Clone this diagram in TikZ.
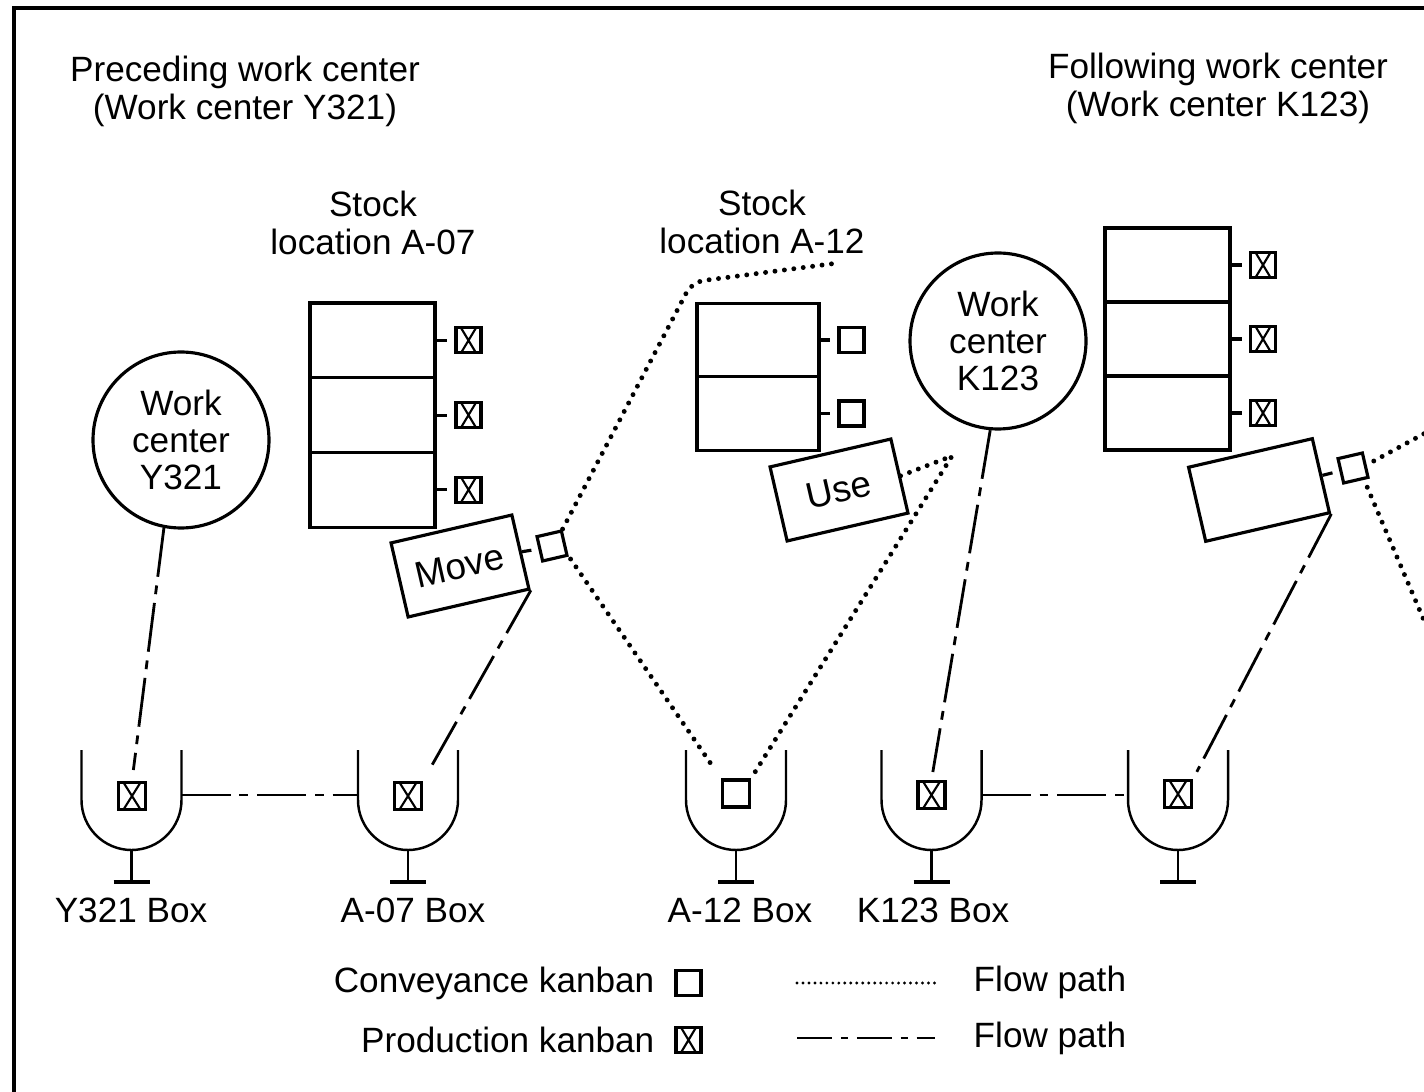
\documentclass[tikz,border=0pt]{standalone}
\usepackage{fontspec}
\setmainfont{Liberation Sans}
\usetikzlibrary{calc}
\tikzset{
  txt/.style={font=\fontsize{10}{10.8}\selectfont, align=center, inner sep=0pt},
  wc/.style={circle, draw, line width=0.9pt, minimum size=1.76cm, inner sep=0pt,
    font=\fontsize{10}{10.5}\selectfont, align=center},
  cell/.style={draw, line width=0.9pt, minimum width=1.25cm, minimum height=0.747cm, inner sep=0pt},
  card/.style={draw, line width=0.9pt, minimum width=1.24cm, minimum height=0.76cm,
    inner sep=0pt, rotate=13, font=\fontsize{10.5}{11}\selectfont},
  ctag/.style={draw, line width=0.9pt, minimum size=0.25cm, inner sep=0pt},
  ptag/.style={ctag, path picture={
    \draw[line width=0.6pt]
      ([xshift=0.05cm]path picture bounding box.north west) -- ([xshift=-0.05cm]path picture bounding box.south east)
      ([xshift=-0.05cm]path picture bounding box.north east) -- ([xshift=0.05cm]path picture bounding box.south west);}},
  tick/.style={line width=0.9pt, shorten >=0.07cm},
  dotflow/.style={line width=1.4pt, dash pattern=on 0pt off 2.7pt, line cap=round},
  dashflow/.style={line width=0.8pt, dash pattern=on 14pt off 2.5pt on 2.5pt off 2.5pt},
  legdot/.style={line width=0.9pt, dash pattern=on 0pt off 1.7pt, line cap=round},
  legdash/.style={line width=0.8pt, dash pattern=on 10pt off 2.5pt on 2pt off 2.5pt},
  bin/.pic={
    \draw[line width=0.7pt] (-0.5,0.45) -- (-0.5,-0.05) arc[start angle=180, end angle=360, radius=0.5] -- (0.5,0.45);
    \draw[line width=0.7pt] (0,-0.55) -- (0,-0.87);
    \draw[line width=1.1pt] (-0.18,-0.87) -- (0.18,-0.87);
    \coordinate (-l) at (-0.5,0);
    \coordinate (-r) at (0.5,0);
  }
}
\begin{document}
\begin{tikzpicture}
\useasboundingbox (0,0) rectangle (14.24,-10.92);
\clip (0,0) rectangle (14.24,-10.92);

% outer frame
\draw[line width=0.9pt] (14.5,-0.08) -- (0.14,-0.08) -- (0.14,-11.2);

% headings
\node[txt] (hpre) at (2.45,-0.91) {Preceding work center\\(Work center Y321)};
\node[txt] (hfol) at (12.18,-0.885) {Following work center\\(Work center K123)};
\node[txt] (hsa) at (3.73,-2.225) {Stock\\location A-07};
\node[txt] (hsb) at (7.62,-2.215) {Stock\\location A-12};

% work centers
\node[wc] (c1) at (1.81,-4.40) {Work\\center\\Y321};
\node[wc] (c2) at (9.98,-3.41) {Work\\center\\K123};

% stock location A-07
\node[cell] (a1) at (3.725,-3.404) {};
\node[cell] (a2) at (3.725,-4.151) {};
\node[cell] (a3) at (3.725,-4.898) {};
\node[ptag] (ka1) at (4.685,-3.404) {};
\node[ptag] (ka2) at (4.685,-4.151) {};
\node[ptag] (ka3) at (4.685,-4.898) {};
\foreach \i in {1,2,3} \draw[tick] (a\i.east) -- (ka\i.west);

% stock location A-12
\node[cell, minimum width=1.22cm, minimum height=0.735cm] (b1) at (7.58,-3.40) {};
\node[cell, minimum width=1.22cm, minimum height=0.735cm] (b2) at (7.58,-4.135) {};
\node[ctag] (kb1) at (8.515,-3.40) {};
\node[ctag] (kb2) at (8.515,-4.135) {};
\foreach \i in {1,2} \draw[tick] (b\i.east) -- (kb\i.west);

% store of work center K123
\node[cell, minimum height=0.74cm] (d1) at (11.675,-2.65) {};
\node[cell, minimum height=0.74cm] (d2) at (11.675,-3.39) {};
\node[cell, minimum height=0.74cm] (d3) at (11.675,-4.13) {};
\node[ptag] (kd1) at (12.63,-2.65) {};
\node[ptag] (kd2) at (12.63,-3.39) {};
\node[ptag] (kd3) at (12.63,-4.13) {};
\foreach \i in {1,2,3} \draw[tick] (d\i.east) -- (kd\i.west);

% tilted cards
\node[card] (move) at (4.60,-5.66) {Move};
\node[ctag, rotate=13] (ms) at (5.52,-5.46) {};
\draw[tick] (move.east) -- (ms.west);
\node[card] (use) at (8.39,-4.90) {Use};
\node[card, minimum width=1.27cm] (rc) at (12.59,-4.90) {};
\node[ctag, rotate=13] (rs) at (13.53,-4.68) {};
\draw[tick] (rc.east) -- (rs.west);

% boxes
\pic (bnY) at (1.315,-7.95) {bin};
\pic (bnA) at (4.08,-7.95) {bin};
\pic (bnB) at (7.36,-7.95) {bin};
\pic (bnK) at (9.315,-7.95) {bin};
\pic (bnR) at (11.78,-7.95) {bin};
\node[ptag, minimum size=0.27cm] (k1) at (1.32,-7.96) {};
\node[ptag, minimum size=0.27cm] (k2) at (4.08,-7.96) {};
\node[ctag, minimum size=0.27cm] (k3) at (7.36,-7.935) {};
\node[ptag, minimum size=0.27cm] (k4) at (9.315,-7.95) {};
\node[ptag, minimum size=0.27cm] (k5) at (11.78,-7.94) {};
\node[txt] (lY) at (1.31,-9.10) {Y321 Box};
\node[txt] (lA) at (4.13,-9.10) {A-07 Box};
\node[txt] (lB) at (7.40,-9.10) {A-12 Box};
\node[txt] (lK) at (9.33,-9.10) {K123 Box};

% production kanban flow
\draw[dashflow, shorten >=0.11cm] (c1.-101) -- (k1.north);
\draw[dashflow] (bnY-r) -- (bnA-l);
\draw[dashflow, shorten >=0.1cm] (move.south east) -- (k2.north east);
\draw[dashflow, shorten >=0.08cm] (c2.-95) -- (k4.north);
\draw[dashflow] (bnK-r) -- (bnR-l);
\draw[dashflow, shorten >=0.08cm] (rc.south east) -- (k5.north east);

% conveyance kanban flow
\coordinate (bend) at (6.92,-2.82);
\coordinate (tail) at (8.38,-2.63);
\draw[dotflow, rounded corners=0.12cm] (ms.north east) -- (bend) -- (tail);
\draw[dotflow, shorten >=0.1cm, shorten <=0.03cm] (ms.south east) -- (k3.north west);
\coordinate (apex) at (9.52,-4.56);
\draw[dotflow, shorten <=0.08cm, shorten >=-0.06cm] (k3.north east) -- (apex) -- (use.east);
\coordinate (outA) at (14.40,-4.25);
\coordinate (outB) at (14.40,-6.58);
\draw[dotflow, shorten <=0.08cm] (rs.east) -- (outA);
\draw[dotflow, shorten <=0.08cm] (rs.-60) -- (outB);

% legend
\node[txt, anchor=east] (lg1) at (6.55,-9.83) {Conveyance kanban};
\node[ctag] (lk1) at (6.885,-9.83) {};
\node[txt, anchor=east] (lg2) at (6.55,-10.40) {Production kanban};
\node[ptag] (lk2) at (6.885,-10.40) {};
\coordinate (ld1) at (7.97,-9.83);
\coordinate (ld2) at (9.40,-9.83);
\coordinate (ld3) at (7.97,-10.38);
\coordinate (ld4) at (9.35,-10.38);
\draw[legdot] (ld1) -- (ld2);
\draw[legdash] (ld3) -- (ld4);
\node[txt, anchor=west] (fp1) at (9.73,-9.82) {Flow path};
\node[txt, anchor=west] (fp2) at (9.73,-10.38) {Flow path};
\end{tikzpicture}
\end{document}
